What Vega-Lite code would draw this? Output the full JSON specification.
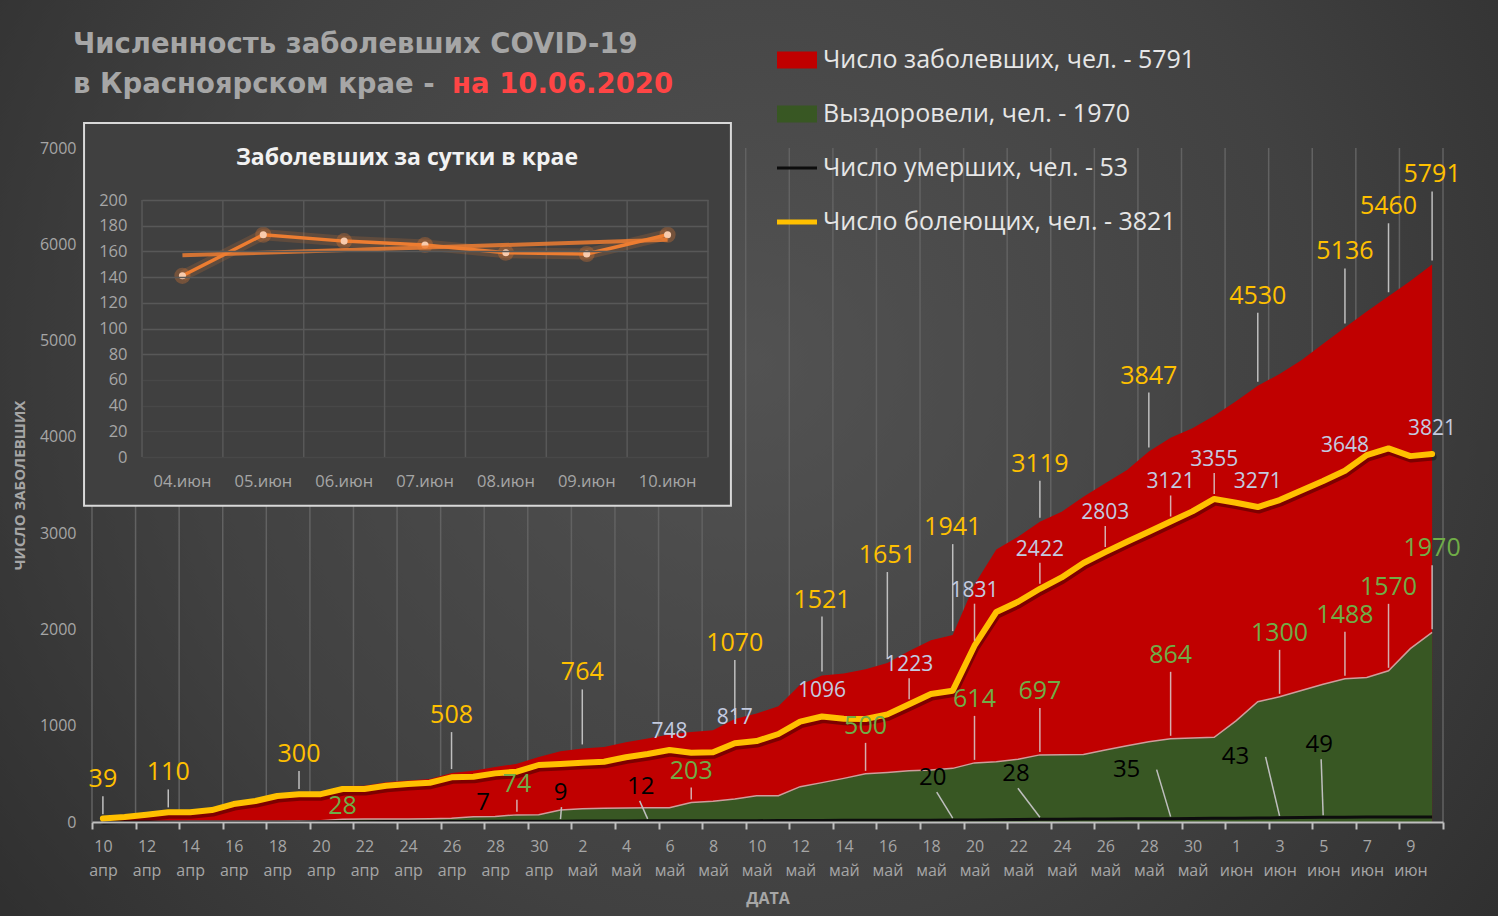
{
  "$schema": "https://vega.github.io/schema/vega-lite/v6.json",
  "width": 1351,
  "height": 674,
  "autosize": {"type": "none"},
  "padding": {"left": 92, "top": 148, "right": 55, "bottom": 94},
  "background": "#363636",
  "config": {"view": {"stroke": null}, "font": "Open Sans"},
  "datasets": {
    "main": [
      {"d":"2020-04-10","c":39,"r":2,"m":0,"a":37},
      {"d":"2020-04-11","c":55,"r":3,"m":0,"a":52},
      {"d":"2020-04-12","c":80,"r":4,"m":0,"a":76},
      {"d":"2020-04-13","c":110,"r":8,"m":1,"a":101},
      {"d":"2020-04-14","c":112,"r":10,"m":1,"a":101},
      {"d":"2020-04-15","c":135,"r":10,"m":1,"a":124},
      {"d":"2020-04-16","c":197,"r":10,"m":1,"a":186},
      {"d":"2020-04-17","c":230,"r":11,"m":1,"a":218},
      {"d":"2020-04-18","c":282,"r":11,"m":1,"a":270},
      {"d":"2020-04-19","c":300,"r":12,"m":1,"a":287},
      {"d":"2020-04-20","c":305,"r":14,"m":2,"a":289},
      {"d":"2020-04-21","c":374,"r":28,"m":3,"a":343},
      {"d":"2020-04-22","c":377,"r":31,"m":3,"a":343},
      {"d":"2020-04-23","c":412,"r":31,"m":4,"a":377},
      {"d":"2020-04-24","c":430,"r":31,"m":4,"a":395},
      {"d":"2020-04-25","c":447,"r":34,"m":5,"a":408},
      {"d":"2020-04-26","c":508,"r":39,"m":5,"a":464},
      {"d":"2020-04-27","c":531,"r":55,"m":6,"a":470},
      {"d":"2020-04-28","c":570,"r":58,"m":7,"a":505},
      {"d":"2020-04-29","c":605,"r":74,"m":8,"a":523},
      {"d":"2020-04-30","c":675,"r":75,"m":8,"a":592},
      {"d":"2020-05-01","c":736,"r":125,"m":9,"a":602},
      {"d":"2020-05-02","c":764,"r":138,"m":10,"a":616},
      {"d":"2020-05-03","c":778,"r":142,"m":10,"a":626},
      {"d":"2020-05-04","c":827,"r":145,"m":10,"a":672},
      {"d":"2020-05-05","c":866,"r":148,"m":12,"a":706},
      {"d":"2020-05-06","c":908,"r":148,"m":12,"a":748},
      {"d":"2020-05-07","c":935,"r":203,"m":12,"a":720},
      {"d":"2020-05-08","c":952,"r":215,"m":13,"a":724},
      {"d":"2020-05-09","c":1070,"r":240,"m":13,"a":817},
      {"d":"2020-05-10","c":1128,"r":273,"m":14,"a":841},
      {"d":"2020-05-11","c":1202,"r":273,"m":15,"a":914},
      {"d":"2020-05-12","c":1425,"r":367,"m":16,"a":1042},
      {"d":"2020-05-13","c":1521,"r":409,"m":16,"a":1096},
      {"d":"2020-05-14","c":1543,"r":453,"m":17,"a":1073},
      {"d":"2020-05-15","c":1587,"r":500,"m":17,"a":1070},
      {"d":"2020-05-16","c":1651,"r":515,"m":18,"a":1118},
      {"d":"2020-05-17","c":1775,"r":533,"m":19,"a":1223},
      {"d":"2020-05-18","c":1888,"r":540,"m":19,"a":1329},
      {"d":"2020-05-19","c":1941,"r":557,"m":20,"a":1364},
      {"d":"2020-05-20","c":2466,"r":614,"m":21,"a":1831},
      {"d":"2020-05-21","c":2830,"r":626,"m":23,"a":2181},
      {"d":"2020-05-22","c":2963,"r":651,"m":25,"a":2287},
      {"d":"2020-05-23","c":3119,"r":697,"m":28,"a":2422},
      {"d":"2020-05-24","c":3222,"r":699,"m":29,"a":2540},
      {"d":"2020-05-25","c":3378,"r":700,"m":30,"a":2690},
      {"d":"2020-05-26","c":3517,"r":748,"m":31,"a":2803},
      {"d":"2020-05-27","c":3655,"r":793,"m":33,"a":2911},
      {"d":"2020-05-28","c":3847,"r":834,"m":34,"a":3015},
      {"d":"2020-05-29","c":3990,"r":864,"m":35,"a":3121},
      {"d":"2020-05-30","c":4090,"r":872,"m":37,"a":3226},
      {"d":"2020-05-31","c":4220,"r":880,"m":39,"a":3355},
      {"d":"2020-06-01","c":4370,"r":1050,"m":40,"a":3316},
      {"d":"2020-06-02","c":4530,"r":1250,"m":41,"a":3271},
      {"d":"2020-06-03","c":4654,"r":1300,"m":43,"a":3344},
      {"d":"2020-06-04","c":4795,"r":1365,"m":46,"a":3442},
      {"d":"2020-06-05","c":4968,"r":1430,"m":49,"a":3541},
      {"d":"2020-06-06","c":5136,"r":1488,"m":50,"a":3648},
      {"d":"2020-06-07","c":5301,"r":1500,"m":51,"a":3810},
      {"d":"2020-06-08","c":5460,"r":1570,"m":52,"a":3880},
      {"d":"2020-06-09","c":5618,"r":1800,"m":52,"a":3800},
      {"d":"2020-06-10","c":5791,"r":1970,"m":53,"a":3821}
    ],
    "lab": [
      {"d":"2020-04-10","v":39,"s":"c"},
      {"d":"2020-04-13","v":110,"s":"c"},
      {"d":"2020-04-19","v":300,"s":"c"},
      {"d":"2020-04-26","v":508,"s":"c"},
      {"d":"2020-05-02","v":764,"s":"c"},
      {"d":"2020-05-09","v":1070,"s":"c"},
      {"d":"2020-05-13","v":1521,"s":"c"},
      {"d":"2020-05-16","v":1651,"s":"c"},
      {"d":"2020-05-19","v":1941,"s":"c"},
      {"d":"2020-05-23","v":3119,"s":"c"},
      {"d":"2020-05-28","v":3847,"s":"c"},
      {"d":"2020-06-02","v":4530,"s":"c"},
      {"d":"2020-06-06","v":5136,"s":"c"},
      {"d":"2020-06-08","v":5460,"s":"c"},
      {"d":"2020-06-10","v":5791,"s":"c"},
      {"d":"2020-05-06","v":748,"s":"a"},
      {"d":"2020-05-09","v":817,"s":"a"},
      {"d":"2020-05-13","v":1096,"s":"a"},
      {"d":"2020-05-17","v":1223,"s":"a"},
      {"d":"2020-05-20","v":1831,"s":"a"},
      {"d":"2020-05-23","v":2422,"s":"a"},
      {"d":"2020-05-26","v":2803,"s":"a"},
      {"d":"2020-05-29","v":3121,"s":"a"},
      {"d":"2020-05-31","v":3355,"s":"a"},
      {"d":"2020-06-02","v":3271,"s":"a"},
      {"d":"2020-06-06","v":3648,"s":"a"},
      {"d":"2020-06-10","v":3821,"s":"a"},
      {"d":"2020-04-21","v":28,"s":"r"},
      {"d":"2020-04-29","v":74,"s":"r"},
      {"d":"2020-05-07","v":203,"s":"r"},
      {"d":"2020-05-15","v":500,"s":"r"},
      {"d":"2020-05-20","v":614,"s":"r"},
      {"d":"2020-05-23","v":697,"s":"r"},
      {"d":"2020-05-29","v":864,"s":"r"},
      {"d":"2020-06-03","v":1300,"s":"r"},
      {"d":"2020-06-06","v":1488,"s":"r"},
      {"d":"2020-06-08","v":1570,"s":"r"},
      {"d":"2020-06-10","v":1970,"s":"r"},
      {"d":"2020-04-28","v":7,"s":"m"},
      {"d":"2020-05-01","v":9,"s":"m"},
      {"d":"2020-05-05","v":12,"s":"m"},
      {"d":"2020-05-19","v":20,"s":"m"},
      {"d":"2020-05-23","v":28,"s":"m"},
      {"d":"2020-05-29","v":35,"s":"m"},
      {"d":"2020-06-03","v":43,"s":"m"},
      {"d":"2020-06-05","v":49,"s":"m"}
    ],
    "daily": [
      {"d":"2020-06-04","n":141},
      {"d":"2020-06-05","n":173},
      {"d":"2020-06-06","n":168},
      {"d":"2020-06-07","n":165},
      {"d":"2020-06-08","n":159},
      {"d":"2020-06-09","n":158},
      {"d":"2020-06-10","n":173}
    ],
    "trend": [
      {"d":"2020-06-04","n":157},
      {"d":"2020-06-10","n":169}
    ],
    "leg": [
      {"item":"Число заболевших, чел. - 5791"},
      {"item":"Выздоровели, чел. - 1970"},
      {"item":"Число умерших, чел. - 53"},
      {"item":"Число болеющих, чел. - 3821"}
    ],
    "one": [{}]
  },
  "layer": [
    {
      "data": {"name": "one"},
      "layer": [
        {
          "mark": {"type": "rect", "fill": {"gradient": "radial", "x1": 0.49, "y1": 0.44, "r1": 0, "x2": 0.49, "y2": 0.44, "r2": 0.72, "stops": [{"offset": 0, "color": "#525252"}, {"offset": 0.5, "color": "#414141"}, {"offset": 1, "color": "#262626"}]}},
          "encoding": {
            "x": {"datum": {"year":2020,"month":6,"date":1,"hours":12,"utc":true}, "type": "temporal", "axis": null,
              "scale": {"type": "utc", "domain": [{"year":2020,"month":6,"date":3,"hours":12,"utc":true},{"year":2020,"month":6,"date":10,"hours":12,"utc":true}], "range": [50, 616]}},
            "x2": {"datum": {"year":2020,"month":6,"date":21,"utc":true}},
            "y": {"datum": 380, "type": "quantitative", "axis": null, "scale": {"domain": [0, 200], "range": [309, 52]}},
            "y2": {"datum": -380}
          }
        },
        {
          "mark": {"type": "text", "color": "#a6a6a6", "font": "DejaVu Sans", "fontSize": 27.5, "fontWeight": "bold", "align": "left", "baseline": "middle", "dx": -69, "dy": -155, "text": "Численность заболевших COVID-19"},
          "encoding": {
            "x": {"datum": {"year":2020,"month":6,"date":3,"hours":12,"utc":true}, "type": "temporal", "axis": null},
            "y": {"datum": 200, "type": "quantitative", "axis": null}
          }
        },
        {
          "mark": {"type": "text", "color": "#a6a6a6", "font": "DejaVu Sans", "fontSize": 27.5, "fontWeight": "bold", "align": "left", "baseline": "middle", "dx": -69, "dy": -115, "text": "в Красноярском крае -"},
          "encoding": {
            "x": {"datum": {"year":2020,"month":6,"date":3,"hours":12,"utc":true}, "type": "temporal", "axis": null},
            "y": {"datum": 200, "type": "quantitative", "axis": null}
          }
        },
        {
          "mark": {"type": "text", "color": "#ff4545", "font": "DejaVu Sans", "fontSize": 27.5, "fontWeight": "bold", "align": "left", "baseline": "middle", "dx": 310, "dy": -115, "text": "на 10.06.2020"},
          "encoding": {
            "x": {"datum": {"year":2020,"month":6,"date":3,"hours":12,"utc":true}, "type": "temporal", "axis": null},
            "y": {"datum": 200, "type": "quantitative", "axis": null}
          }
        },
        {
          "data": {"name": "leg"},
          "mark": {"type": "point", "filled": true, "clip": true},
          "encoding": {
            "x": {"datum": {"year":2020,"month":6,"date":5,"utc":true}, "type": "temporal", "axis": null},
            "y": {"datum": -900, "type": "quantitative", "axis": null},
            "color": {"field": "item", "type": "nominal",
              "scale": {"domain": ["Число заболевших, чел. - 5791","Выздоровели, чел. - 1970","Число умерших, чел. - 53","Число болеющих, чел. - 3821"], "range": ["#C00000","#385723","#0d0d0d","#FFC000"]},
              "legend": {"orient": "none", "legendX": 685, "legendY": -108, "title": null, "labelFont": "Open Sans", "labelFontSize": 25, "labelColor": "#e6e6e6", "symbolSize": 1600, "rowPadding": 21, "labelOffset": 6, "symbolStrokeWidth": 0, "padding": 0, "symbolOpacity": 1, "labelLimit": 600}},
            "shape": {"field": "item", "type": "nominal",
              "scale": {"domain": ["Число заболевших, чел. - 5791","Выздоровели, чел. - 1970","Число умерших, чел. - 53","Число болеющих, чел. - 3821"], "range": ["M-1,-0.42H1V0.42H-1Z","M-1,-0.42H1V0.42H-1Z","M-1,-0.08H1V0.08H-1Z","M-1,-0.13H1V0.13H-1Z"]},
              "legend": {"orient": "none", "legendX": 685, "legendY": -108, "title": null, "labelFont": "Open Sans", "labelFontSize": 25, "labelColor": "#e6e6e6", "symbolSize": 1600, "rowPadding": 21, "labelOffset": 6, "symbolStrokeWidth": 0, "padding": 0, "symbolOpacity": 1, "labelLimit": 600}}
          }
        }
      ]
    },
    {
      "data": {"name": "main"},
      "encoding": {
        "x": {
          "field": "d", "type": "temporal",
          "scale": {"type": "utc", "domain": [{"year":2020,"month":4,"date":9,"hours":12,"utc":true},{"year":2020,"month":6,"date":10,"hours":12,"utc":true}]},
          "axis": {
            "orient": "bottom", "zindex": 1,
            "values": [
              {"year":2020,"month":4,"date":9,"hours":12,"utc":true},
              {"year":2020,"month":4,"date":11,"hours":12,"utc":true},
              {"year":2020,"month":4,"date":13,"hours":12,"utc":true},
              {"year":2020,"month":4,"date":15,"hours":12,"utc":true},
              {"year":2020,"month":4,"date":17,"hours":12,"utc":true},
              {"year":2020,"month":4,"date":19,"hours":12,"utc":true},
              {"year":2020,"month":4,"date":21,"hours":12,"utc":true},
              {"year":2020,"month":4,"date":23,"hours":12,"utc":true},
              {"year":2020,"month":4,"date":25,"hours":12,"utc":true},
              {"year":2020,"month":4,"date":27,"hours":12,"utc":true},
              {"year":2020,"month":4,"date":29,"hours":12,"utc":true},
              {"year":2020,"month":5,"date":1,"hours":12,"utc":true},
              {"year":2020,"month":5,"date":3,"hours":12,"utc":true},
              {"year":2020,"month":5,"date":5,"hours":12,"utc":true},
              {"year":2020,"month":5,"date":7,"hours":12,"utc":true},
              {"year":2020,"month":5,"date":9,"hours":12,"utc":true},
              {"year":2020,"month":5,"date":11,"hours":12,"utc":true},
              {"year":2020,"month":5,"date":13,"hours":12,"utc":true},
              {"year":2020,"month":5,"date":15,"hours":12,"utc":true},
              {"year":2020,"month":5,"date":17,"hours":12,"utc":true},
              {"year":2020,"month":5,"date":19,"hours":12,"utc":true},
              {"year":2020,"month":5,"date":21,"hours":12,"utc":true},
              {"year":2020,"month":5,"date":23,"hours":12,"utc":true},
              {"year":2020,"month":5,"date":25,"hours":12,"utc":true},
              {"year":2020,"month":5,"date":27,"hours":12,"utc":true},
              {"year":2020,"month":5,"date":29,"hours":12,"utc":true},
              {"year":2020,"month":5,"date":31,"hours":12,"utc":true},
              {"year":2020,"month":6,"date":2,"hours":12,"utc":true},
              {"year":2020,"month":6,"date":4,"hours":12,"utc":true},
              {"year":2020,"month":6,"date":6,"hours":12,"utc":true},
              {"year":2020,"month":6,"date":8,"hours":12,"utc":true},
              {"year":2020,"month":6,"date":10,"hours":12,"utc":true}
            ],
            "grid": false,
            "domain": true, "domainColor": "#bfbfbf", "domainWidth": 2,
            "ticks": true, "tickColor": "#bfbfbf", "tickSize": 7, "tickWidth": 2,
            "labelExpr": "+datum.value >= 1591747200000 ? '' : [utcdate(+datum.value + 43200000) + '', ['янв','фев','мар','апр','май','июн'][utcmonth(+datum.value + 43200000)]]",
            "labelOffset": 11, "labelPadding": 9,
            "labelColor": "#a6a6a6", "labelFontSize": 16, "labelLineHeight": 24,
            "labelAlign": "center", "labelBaseline": "top",
            "labelOverlap": false, "labelFlush": false, "labelBound": false,
            "title": "ДАТА", "titleColor": "#a6a6a6", "titleFontSize": 16, "titleFontWeight": "bold", "titlePadding": 12
          }
        }
      },
      "layer": [
        {
          "transform": [{"filter": "round((+toDate(datum.d) - 1586476800000) / 86400000) % 2 == 0"}],
          "mark": {"type": "rule", "color": "#626262", "strokeWidth": 1.5, "xOffset": -10.9},
          "encoding": {
            "y": {"datum": 0, "type": "quantitative", "scale": {"domain": [0, 7000]},
              "axis": {"orient": "left", "zindex": 1, "values": [0,1000,2000,3000,4000,5000,6000,7000], "format": "d", "grid": false, "domain": false, "ticks": false,
                "labelColor": "#a6a6a6", "labelFontSize": 16, "labelPadding": 16,
                "title": "ЧИСЛО ЗАБОЛЕВШИХ", "titleColor": "#a6a6a6", "titleFontSize": 15, "titleFontWeight": "bold", "titlePadding": 12}},
            "y2": {"datum": 7000}
          }
        },
        {
          "transform": [{"filter": "+toDate(datum.d) >= 1591747200000"}],
          "mark": {"type": "rule", "color": "#626262", "strokeWidth": 1.5, "xOffset": 10.9},
          "encoding": {
            "y": {"datum": 0, "type": "quantitative", "scale": {"domain": [0, 7000]}},
            "y2": {"datum": 7000}
          }
        },
        {
          "mark": {"type": "area", "color": "#C00000", "opacity": 1},
          "encoding": {
            "y": {"field": "c", "type": "quantitative", "scale": {"domain": [0, 7000]}}
          }
        },
        {
          "mark": {"type": "area", "color": "#385723", "opacity": 1, "line": {"color": "#cf9c9c", "strokeWidth": 1.5}},
          "encoding": {"y": {"field": "r", "type": "quantitative", "scale": {"domain": [0, 7000]}}}
        },
        {
          "mark": {"type": "line", "color": "#0d0d0d", "strokeWidth": 3},
          "encoding": {"y": {"field": "m", "type": "quantitative", "scale": {"domain": [0, 7000]}}}
        },
        {
          "mark": {"type": "line", "color": "#000000", "opacity": 0.35, "strokeWidth": 7, "yOffset": 3, "xOffset": 1, "strokeJoin": "round", "strokeCap": "round"},
          "encoding": {"y": {"field": "a", "type": "quantitative", "scale": {"domain": [0, 7000]}}}
        },
        {
          "mark": {"type": "line", "color": "#FFC000", "strokeWidth": 6, "strokeJoin": "round", "strokeCap": "round"},
          "encoding": {"y": {"field": "a", "type": "quantitative", "scale": {"domain": [0, 7000]}}}
        },
        {
          "data": {"name": "lab"},
          "transform": [{"filter": "datum.s == 'c'"}],
          "mark": {"type": "rule", "color": "#bfbfbf", "strokeWidth": 1.5, "yOffset": -4,
            "y2Offset": {"expr": "indexof([1651,1941], datum.v) >= 0 ? -91 : indexof([4530,5460,5791], datum.v) >= 0 ? -73 : indexof([508,3119], datum.v) >= 0 ? -41 : indexof([39,110,300], datum.v) >= 0 ? -22 : -59"}},
          "encoding": {
            "y": {"field": "v", "type": "quantitative", "scale": {"domain": [0, 7000]}},
            "y2": {"field": "v"}
          }
        },
        {
          "data": {"name": "lab"},
          "transform": [{"filter": "datum.s == 'c'"}],
          "mark": {"type": "text", "color": "#FFC000", "fontSize": 25, "align": "center", "baseline": "middle",
            "dy": {"expr": "indexof([1651,1941], datum.v) >= 0 ? -108 : indexof([4530,5460,5791], datum.v) >= 0 ? -90 : indexof([508,3119], datum.v) >= 0 ? -58 : indexof([39,110,300], datum.v) >= 0 ? -39 : -76"}},
          "encoding": {
            "y": {"field": "v", "type": "quantitative", "scale": {"domain": [0, 7000]}},
            "text": {"field": "v", "type": "quantitative"}
          }
        },
        {
          "data": {"name": "lab"},
          "transform": [{"filter": "datum.s == 'a' && indexof([748,817,1096,3271,3648,3821], datum.v) < 0"}],
          "mark": {"type": "rule", "color": "#d9d9d9", "opacity": 0.8, "strokeWidth": 1.5, "yOffset": -5,
            "y2Offset": {"expr": "datum.v == 1831 ? -42 : -26"}},
          "encoding": {
            "y": {"field": "v", "type": "quantitative", "scale": {"domain": [0, 7000]}},
            "y2": {"field": "v"}
          }
        },
        {
          "data": {"name": "lab"},
          "transform": [{"filter": "datum.s == 'a'"}],
          "mark": {"type": "text", "color": "#c3cbe0", "fontSize": 21, "align": "center", "baseline": "middle",
            "dy": {"expr": "datum.v == 748 ? -18 : indexof([817,1096,3271,3648,3821], datum.v) >= 0 ? -25 : datum.v == 1831 ? -55 : -39"}},
          "encoding": {
            "y": {"field": "v", "type": "quantitative", "scale": {"domain": [0, 7000]}},
            "text": {"field": "v", "type": "quantitative"}
          }
        },
        {
          "data": {"name": "lab"},
          "transform": [{"filter": "datum.s == 'r' && datum.v != 28"}],
          "mark": {"type": "rule", "color": "#d9d9d9", "opacity": 0.8, "strokeWidth": 1.5, "yOffset": -3,
            "y2Offset": {"expr": "indexof([74,203], datum.v) >= 0 ? -15 : datum.v == 500 ? -31 : indexof([864,1570,1970], datum.v) >= 0 ? -67 : -47"}},
          "encoding": {
            "y": {"field": "v", "type": "quantitative", "scale": {"domain": [0, 7000]}},
            "y2": {"field": "v"}
          }
        },
        {
          "data": {"name": "lab"},
          "transform": [{"filter": "datum.s == 'r'"}],
          "mark": {"type": "text", "color": "#70AD47", "fontSize": 25, "align": "center", "baseline": "middle",
            "dy": {"expr": "datum.v == 28 ? -13 : indexof([74,203], datum.v) >= 0 ? -31 : datum.v == 500 ? -48 : indexof([864,1570,1970], datum.v) >= 0 ? -84 : -64"}},
          "encoding": {
            "y": {"field": "v", "type": "quantitative", "scale": {"domain": [0, 7000]}},
            "text": {"field": "v", "type": "quantitative"}
          }
        },
        {
          "data": {"name": "lab"},
          "transform": [{"filter": "datum.s == 'm' && datum.v != 7"}],
          "mark": {"type": "rule", "color": "#bfbfbf", "strokeWidth": 1.5, "yOffset": -2,
            "x2Offset": {"expr": "datum.v == 9 ? 1 : datum.v == 49 ? -2 : datum.v == 12 ? -8 : datum.v == 20 ? -16 : datum.v == 28 ? -22 : -14"},
            "y2Offset": {"expr": "datum.v == 9 ? -14 : datum.v == 12 ? -20 : datum.v == 20 ? -28 : datum.v == 28 ? -31 : datum.v == 35 ? -49 : datum.v == 43 ? -61 : -58"}},
          "encoding": {
            "y": {"field": "v", "type": "quantitative", "scale": {"domain": [0, 7000]}},
            "y2": {"field": "v"},
            "x2": {"field": "d"}
          }
        },
        {
          "data": {"name": "lab"},
          "transform": [{"filter": "datum.s == 'm'"}],
          "mark": {"type": "text", "color": "#000000", "fontSize": 24, "align": "center", "baseline": "middle",
            "dx": {"expr": "datum.v == 9 ? 0 : datum.v == 49 ? -4 : datum.v == 12 ? -7 : datum.v == 7 ? -12 : datum.v == 20 ? -20 : datum.v == 28 ? -24 : -44"},
            "dy": {"expr": "datum.v == 7 ? -18 : datum.v == 9 ? -28 : datum.v == 12 ? -34 : datum.v == 20 ? -42 : datum.v == 28 ? -45 : datum.v == 35 ? -49 : datum.v == 43 ? -61 : -72"}},
          "encoding": {
            "y": {"field": "v", "type": "quantitative", "scale": {"domain": [0, 7000]}},
            "text": {"field": "v", "type": "quantitative"}
          }
        }
      ]
    },
    {
      "layer": [
        {
          "data": {"name": "one"},
          "mark": {"type": "rect", "fill": "#404040", "stroke": "#d9d9d9", "strokeWidth": 2},
          "encoding": {
            "x": {"datum": {"year":2020,"month":6,"date":2,"hours":18,"minutes":48,"utc":true}, "type": "temporal",
              "scale": {"type": "utc", "domain": [{"year":2020,"month":6,"date":3,"hours":12,"utc":true},{"year":2020,"month":6,"date":10,"hours":12,"utc":true}], "range": [50, 616]}},
            "x2": {"datum": {"year":2020,"month":6,"date":10,"hours":18,"minutes":48,"utc":true}},
            "y": {"datum": 260, "type": "quantitative", "scale": {"domain": [0, 200], "range": [309, 52]}},
            "y2": {"datum": -38}
          }
        },
        {
          "data": {"name": "one"},
          "mark": {"type": "text", "color": "#f2f2f2", "fontSize": 23, "fontWeight": "bold", "align": "center", "baseline": "middle", "dx": -18, "dy": -42, "text": "Заболевших за сутки в крае"},
          "encoding": {
            "x": {"datum": {"year":2020,"month":6,"date":7,"utc":true}, "type": "temporal",
              "scale": {"type": "utc", "domain": [{"year":2020,"month":6,"date":3,"hours":12,"utc":true},{"year":2020,"month":6,"date":10,"hours":12,"utc":true}], "range": [50, 616]}},
            "y": {"datum": 200, "type": "quantitative", "scale": {"domain": [0, 200], "range": [309, 52]}}
          }
        },
        {
          "data": {"name": "daily"},
          "mark": {"type": "rule", "color": "#585858", "strokeWidth": 1.5, "xOffset": -40.4},
          "encoding": {
            "x": {"field": "d", "type": "temporal",
              "scale": {"type": "utc", "domain": [{"year":2020,"month":6,"date":3,"hours":12,"utc":true},{"year":2020,"month":6,"date":10,"hours":12,"utc":true}], "range": [50, 616]}},
            "y": {"datum": 0, "type": "quantitative", "scale": {"domain": [0, 200], "range": [309, 52]}},
            "y2": {"datum": 200}
          }
        },
        {
          "data": {"name": "daily"},
          "transform": [{"filter": "+toDate(datum.d) >= 1591747200000"}],
          "mark": {"type": "rule", "color": "#585858", "strokeWidth": 1.5, "xOffset": 40.4},
          "encoding": {
            "x": {"field": "d", "type": "temporal",
              "scale": {"type": "utc", "domain": [{"year":2020,"month":6,"date":3,"hours":12,"utc":true},{"year":2020,"month":6,"date":10,"hours":12,"utc":true}], "range": [50, 616]}},
            "y": {"datum": 0, "type": "quantitative", "scale": {"domain": [0, 200], "range": [309, 52]}},
            "y2": {"datum": 200}
          }
        },
        {
          "data": {"name": "daily"},
          "encoding": {
            "x": {"field": "d", "type": "temporal",
              "scale": {"type": "utc", "domain": [{"year":2020,"month":6,"date":3,"hours":12,"utc":true},{"year":2020,"month":6,"date":10,"hours":12,"utc":true}], "range": [50, 616]},
              "axis": {"orient": "bottom", "offset": -365, "zindex": 1,
                "values": [
                  {"year":2020,"month":6,"date":3,"hours":12,"utc":true},
                  {"year":2020,"month":6,"date":4,"hours":12,"utc":true},
                  {"year":2020,"month":6,"date":5,"hours":12,"utc":true},
                  {"year":2020,"month":6,"date":6,"hours":12,"utc":true},
                  {"year":2020,"month":6,"date":7,"hours":12,"utc":true},
                  {"year":2020,"month":6,"date":8,"hours":12,"utc":true},
                  {"year":2020,"month":6,"date":9,"hours":12,"utc":true},
                  {"year":2020,"month":6,"date":10,"hours":12,"utc":true}
                ],
                "grid": false,
                "domain": false, "ticks": false,
                "labelExpr": "+datum.value >= 1591747200000 ? '' : utcFormat(+datum.value + 43200000, '%d') + '.июн'",
                "labelOffset": 40, "labelPadding": 16, "labelColor": "#a6a6a6", "labelFontSize": 16.5,
                "labelOverlap": false, "labelFlush": false, "labelBound": false, "title": null}},
            "y": {"field": "n", "type": "quantitative",
              "scale": {"domain": [0, 200], "range": [309, 52]},
              "axis": {"orient": "left", "offset": -50, "zindex": 1, "values": [0,20,40,60,80,100,120,140,160,180,200],
                "grid": true, "gridColor": "#585858", "gridWidth": 1.5,
                "gridOpacity": {"condition": {"test": "datum.value < 70", "value": 0.35}, "value": 1},
                "domain": false, "ticks": false, "labelPadding": 15, "labelColor": "#a6a6a6", "labelFontSize": 16.5, "title": null}}
          },
          "layer": [
            {"mark": {"type": "line", "color": "#ED7D31", "strokeWidth": 11, "opacity": 0.18}},
            {"mark": {"type": "line", "color": "#ED7D31", "strokeWidth": 3.5}},
            {"mark": {"type": "point", "filled": true, "color": "#ED7D31", "size": 260, "opacity": 0.3}},
            {"mark": {"type": "point", "filled": true, "color": "#F8CBAD", "size": 50, "opacity": 1}}
          ]
        },
        {
          "data": {"name": "trend"},
          "mark": {"type": "line", "color": "#ED7D31", "strokeWidth": 4, "opacity": 0.85},
          "encoding": {
            "x": {"field": "d", "type": "temporal",
              "scale": {"type": "utc", "domain": [{"year":2020,"month":6,"date":3,"hours":12,"utc":true},{"year":2020,"month":6,"date":10,"hours":12,"utc":true}], "range": [50, 616]}},
            "y": {"field": "n", "type": "quantitative", "scale": {"domain": [0, 200], "range": [309, 52]}}
          }
        }
      ]
    }
  ],
  "resolve": {"scale": {"x": "independent", "y": "independent", "color": "independent", "shape": "independent"}, "axis": {"x": "independent", "y": "independent"}}
}
